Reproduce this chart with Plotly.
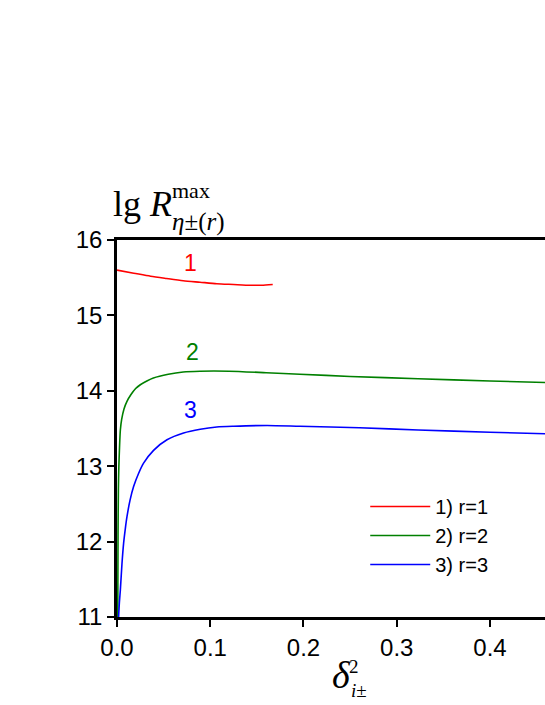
import plotly.graph_objects as go

# curve 1 (r=1)
x1 = [0.0, 0.018, 0.036, 0.053, 0.071, 0.089, 0.107, 0.125, 0.143, 0.155, 0.167]
y1 = [15.60, 15.56, 15.52, 15.49, 15.46, 15.44, 15.42, 15.41, 15.40, 15.40, 15.41]

# curve 2 (r=2)
x2 = [0.0008, 0.0011, 0.0015, 0.002, 0.0027, 0.0036, 0.005, 0.0075, 0.0107, 0.015,
      0.02, 0.025, 0.032, 0.039, 0.055, 0.071, 0.089, 0.12, 0.16, 0.196,
      0.25, 0.323, 0.40, 0.46]
y2 = [11.0, 12.1, 12.7, 13.0, 13.25, 13.48, 13.62, 13.76, 13.86, 13.95,
      14.03, 14.08, 14.13, 14.17, 14.22, 14.25, 14.26, 14.26, 14.24, 14.22,
      14.19, 14.16, 14.13, 14.11]

# curve 3 (r=3)
x3 = [0.0017, 0.0026, 0.0036, 0.0053, 0.0071, 0.0089, 0.0107, 0.014, 0.0178, 0.023,
      0.0285, 0.0392, 0.0536, 0.0714, 0.0893, 0.107, 0.125, 0.161, 0.196, 0.26,
      0.323, 0.40, 0.46]
y3 = [11.0, 11.2, 11.36, 11.7, 11.98, 12.17, 12.33, 12.55, 12.73, 12.9,
      13.04, 13.21, 13.35, 13.44, 13.49, 13.52, 13.53, 13.54, 13.53, 13.51,
      13.48, 13.45, 13.43]

names = ["1) r=1", "2) r=2", "3) r=3"]
colors = ["#ff0000", "#008000", "#0000ff"]

# curve number labels (data coords)
lab_x = [0.079, 0.081, 0.079]
lab_y = [15.69, 14.51, 13.75]
lab_t = ["1", "2", "3"]

fig = go.Figure()
for xs, ys, nm, c in zip([x1, x2, x3], [y1, y2, y3], names, colors):
    fig.add_trace(go.Scatter(x=xs, y=ys, mode="lines", name=nm,
                             line=dict(color=c, width=1.6, shape="spline", smoothing=0.7)))

for xx, yy, t, c in zip(lab_x, lab_y, lab_t, colors):
    fig.add_annotation(x=xx, y=yy, text=t, showarrow=False,
                       font=dict(family="Arial, Liberation Sans", size=23, color=c))

serif = "Times New Roman, Liberation Serif, serif"
# y axis title
fig.add_annotation(xref="paper", yref="paper", x=-0.014, y=1.0955, xanchor="left", yanchor="middle",
                   text="lg <i>R</i>", showarrow=False, font=dict(family=serif, size=36, color="black"))
fig.add_annotation(xref="paper", yref="paper", x=0.124, y=1.1326, xanchor="left", yanchor="middle",
                   text="max", showarrow=False, font=dict(family=serif, size=22, color="black"))
fig.add_annotation(xref="paper", yref="paper", x=0.124, y=1.049, xanchor="left", yanchor="middle",
                   text="<i>η</i>±(<i>r</i>)", showarrow=False, font=dict(family=serif, size=25, color="black"))
# x axis title
fig.add_annotation(xref="paper", yref="paper", x=0.5237, y=-0.1546, xanchor="center", yanchor="middle",
                   text="<i>δ</i>", showarrow=False, font=dict(family=serif, size=38, color="black"))
fig.add_annotation(xref="paper", yref="paper", x=0.553, y=-0.1326, xanchor="center", yanchor="middle",
                   text="2", showarrow=False, font=dict(family=serif, size=19, color="black"))
fig.add_annotation(xref="paper", yref="paper", x=0.5657, y=-0.196, xanchor="center", yanchor="middle",
                   text="<i>i</i>±", showarrow=False, font=dict(family=serif, size=19, color="black"))

fig.update_layout(
    width=545, height=705,
    margin=dict(l=117, r=0, t=240, b=88),
    plot_bgcolor="white", paper_bgcolor="white",
    font=dict(family="Arial, Liberation Sans", size=22, color="black"),
    showlegend=True,
    legend=dict(x=0.58, y=0.345, xanchor="left", yanchor="top", bgcolor="rgba(0,0,0,0)",
                font=dict(size=20), itemwidth=60),
)
fig.update_xaxes(range=[0, 0.459], tickvals=[0, 0.1, 0.2, 0.3, 0.4],
                 ticktext=["0.0", "0.1", "0.2", "0.3", "0.4"],
                 tickfont=dict(size=24),
                 showline=True, linecolor="black", linewidth=2.5, mirror=True,
                 ticks="outside", ticklen=7, tickwidth=2, tickcolor="black",
                 showgrid=False, zeroline=False)
fig.update_yaxes(range=[11, 16], dtick=1, tickfont=dict(size=24),
                 showline=True, linecolor="black", linewidth=2.5,
                 ticks="outside", ticklen=7, tickwidth=2, tickcolor="black",
                 showgrid=False, zeroline=False)

fig.write_html("out.html", config={"displayModeBar": False},
               post_script="document.body.style.margin='0';")
